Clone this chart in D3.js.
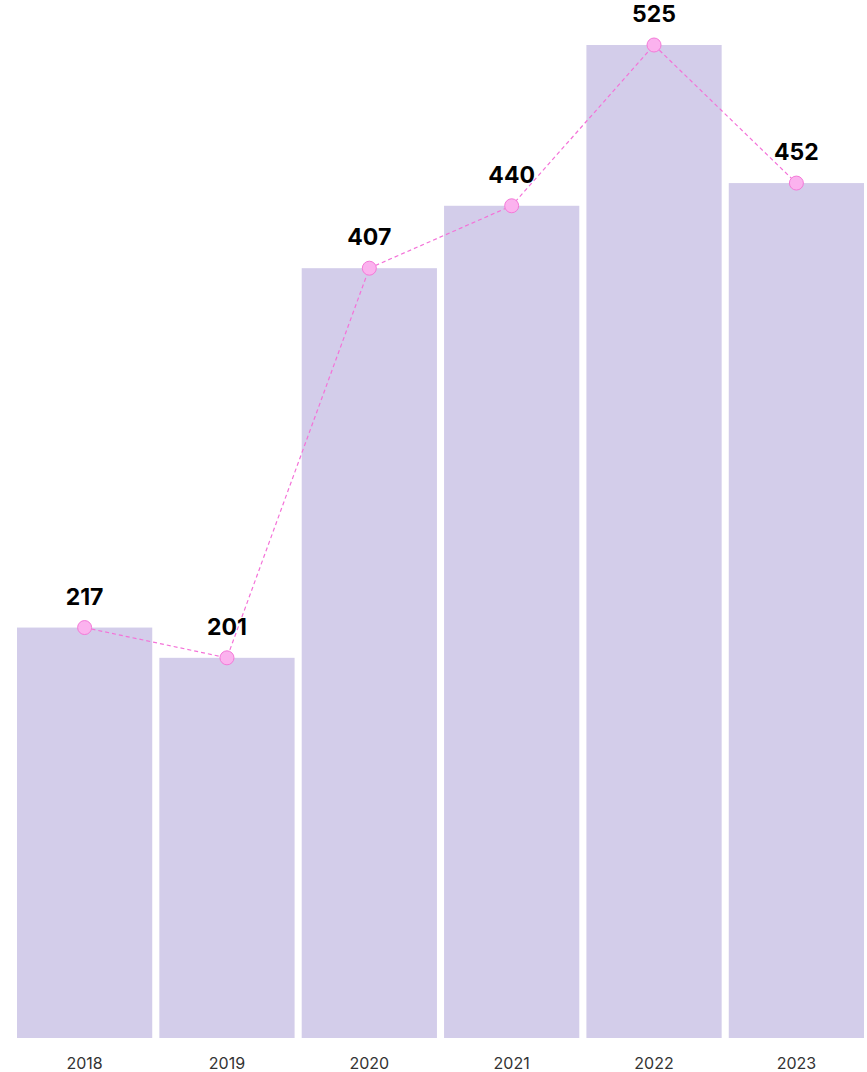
<!DOCTYPE html>
<html>
<head>
<meta charset="utf-8">
<script src="https://cdn.jsdelivr.net/npm/d3@7.9.0/dist/d3.min.js"></script>
<style>
  body { margin: 0; background: #fff; }
  svg { display: block; font-family: Inter, "Noto Sans", sans-serif; }
</style>
</head>
<body>
<div id="chart"></div>
<script>
const years = ['2018', '2019', '2020', '2021', '2022', '2023'];
const values = [217, 201, 407, 440, 525, 452];

const width = 867;
const height = 1072;
const margin = { top: 45, right: 3, bottom: 34, left: 17 };

const svg = d3.select('#chart')
  .append('svg')
  .attr('width', width)
  .attr('height', height);

const data = years.map((y, i) => ({ year: y, value: values[i] }));

const x = d3.scaleBand()
  .domain(years)
  .range([margin.left, width - margin.right])
  .paddingInner(0.05)
  .paddingOuter(0);

const y = d3.scaleLinear()
  .domain([0, d3.max(values)])
  .range([height - margin.bottom, margin.top]);

// bars
svg.append('g')
  .selectAll('rect')
  .data(data)
  .join('rect')
  .attr('x', d => x(d.year))
  .attr('y', d => y(d.value))
  .attr('width', x.bandwidth())
  .attr('height', d => y(0) - y(d.value))
  .attr('fill', '#d3cdea');

// x axis, labels only
const xAxis = svg.append('g')
  .attr('transform', `translate(0, ${y(0)})`)
  .call(d3.axisBottom(x).tickSize(0).tickPadding(20));
xAxis.select('.domain').remove();
xAxis.selectAll('text')
  .attr('font-size', 16)
  .attr('font-family', 'Inter, sans-serif')
  .attr('fill', '#333');

// dashed line through the bar tops
const line = d3.line()
  .x(d => x(d.year) + x.bandwidth() / 2)
  .y(d => y(d.value));

svg.append('path')
  .datum(data)
  .attr('d', line)
  .attr('fill', 'none')
  .attr('stroke', '#f472d8')
  .attr('stroke-width', 1.2)
  .attr('stroke-dasharray', '4,3');

svg.append('g')
  .selectAll('circle')
  .data(data)
  .join('circle')
  .attr('cx', d => x(d.year) + x.bandwidth() / 2)
  .attr('cy', d => y(d.value))
  .attr('r', 7)
  .attr('fill', '#fbb2ee')
  .attr('stroke', '#f47ad8')
  .attr('stroke-width', 1);

// value labels
svg.append('g')
  .selectAll('text')
  .data(data)
  .join('text')
  .attr('x', d => x(d.year) + x.bandwidth() / 2)
  .attr('y', d => y(d.value) - 23)
  .attr('text-anchor', 'middle')
  .attr('font-size', 23)
  .attr('font-weight', 700)
  .attr('fill', '#000')
  .text(d => d.value);
</script>
</body>
</html>
